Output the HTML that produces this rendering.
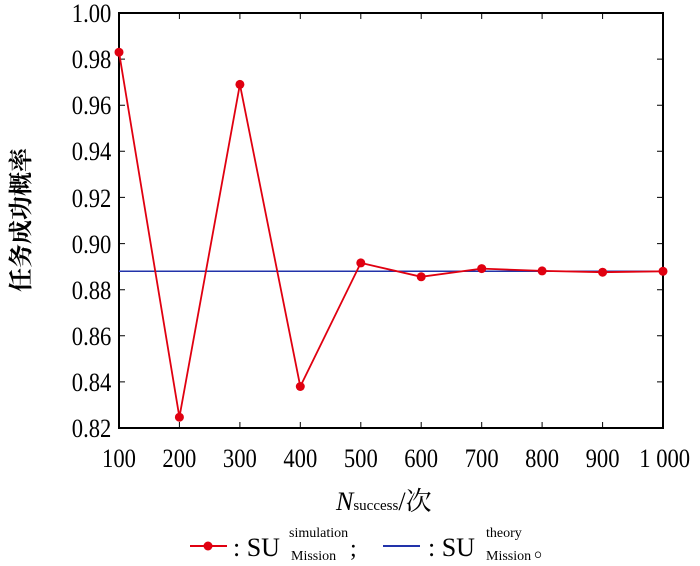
<!DOCTYPE html><html><head><style>body{margin:0;background:#fff}</style></head><body>
<svg width="700" height="561" xmlns="http://www.w3.org/2000/svg" font-family="Liberation Serif, Noto Serif CJK SC, serif">
<rect width="700" height="561" fill="#fff"/>
<g stroke="#000" stroke-width="1">
<path d="M179.4,428v-6M239.9,428v-6M300.3,428v-6M360.8,428v-6M421.2,428v-6M481.7,428v-6M542.1,428v-6M602.6,428v-6M179.4,13v6M239.9,13v6M300.3,13v6M360.8,13v6M421.2,13v6M481.7,13v6M542.1,13v6M602.6,13v6"/>
<path d="M119,381.9h6M119,335.8h6M119,289.7h6M119,243.6h6M119,197.4h6M119,151.3h6M119,105.2h6M119,59.1h6M663,381.9h-6M663,335.8h-6M663,289.7h-6M663,243.6h-6M663,197.4h-6M663,151.3h-6M663,105.2h-6M663,59.1h-6"/>
</g>
<rect x="119" y="13" width="544" height="415" fill="none" stroke="#000" stroke-width="2"/>
<line x1="119" y1="271.3" x2="663" y2="271.3" stroke="#2233aa" stroke-width="1.5"/>
<polyline fill="none" stroke="#e00010" stroke-width="1.8" points="119,52.2 179.4,417.2 239.9,84.4 300.3,386.5 360.8,262.9 421.2,276.8 481.7,268.6 542.1,270.9 602.6,272.2 663,271.3"/>
<g fill="#e00010"><circle cx="119" cy="52.2" r="4.5"/><circle cx="179.4" cy="417.2" r="4.5"/><circle cx="239.9" cy="84.4" r="4.5"/><circle cx="300.3" cy="386.5" r="4.5"/><circle cx="360.8" cy="262.9" r="4.5"/><circle cx="421.2" cy="276.8" r="4.5"/><circle cx="481.7" cy="268.6" r="4.5"/><circle cx="542.1" cy="270.9" r="4.5"/><circle cx="602.6" cy="272.2" r="4.5"/><circle cx="663" cy="271.3" r="4.5"/></g>
<g font-size="26" text-anchor="end" transform="scale(0.87,1)">
<text x="128" y="437">0.82</text><text x="128" y="391">0.84</text><text x="128" y="345">0.86</text><text x="128" y="299">0.88</text><text x="128" y="253">0.90</text><text x="128" y="207">0.92</text><text x="128" y="160">0.94</text><text x="128" y="114">0.96</text><text x="128" y="68">0.98</text><text x="128" y="22">1.00</text>
</g>
<g font-size="26" text-anchor="middle" transform="scale(0.87,1)">
<text x="136.8" y="467">100</text><text x="206.2" y="467">200</text><text x="275.7" y="467">300</text><text x="345.2" y="467">400</text><text x="414.7" y="467">500</text><text x="484.1" y="467">600</text><text x="553.7" y="467">700</text><text x="623.1" y="467">800</text><text x="692.6" y="467">900</text><text x="764" y="467">1 000</text>
</g>
<text x="336" y="510" font-size="26"><tspan font-style="italic">N</tspan><tspan font-size="15">success</tspan>/次</text>
<text transform="translate(29,220) rotate(-90)" font-size="24" font-weight="bold" text-anchor="middle">任务成功概率</text>
<line x1="190" y1="546" x2="227" y2="546" stroke="#e00010" stroke-width="2"/><circle cx="208" cy="546" r="4.5" fill="#e00010"/>
<text x="233" y="556" font-size="26">: SU</text><text x="289" y="537" font-size="14">simulation</text><text x="291" y="560" font-size="14">Mission</text><text x="350" y="556" font-size="24">;</text>
<line x1="383" y1="546" x2="420" y2="546" stroke="#2233aa" stroke-width="2"/>
<text x="428" y="556" font-size="26">: SU</text><text x="486" y="537" font-size="14">theory</text><text x="486" y="560" font-size="14">Mission</text><text x="534" y="556" font-size="22">。</text>
</svg>
</body></html>
